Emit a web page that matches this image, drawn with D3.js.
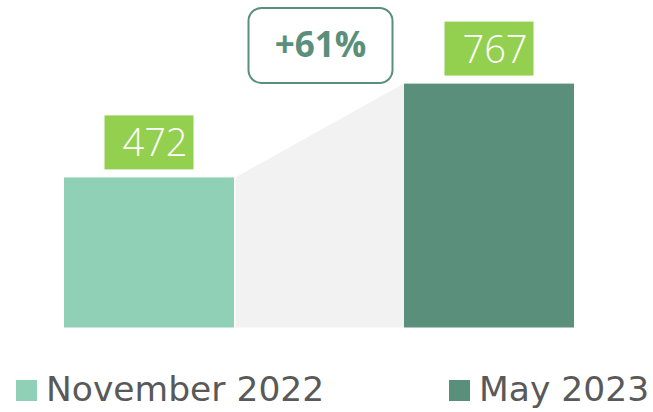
<!doctype html>
<html lang="en">
<head>
    <meta charset="utf-8">
    <title>November 2022 vs May 2023</title>
    <script src="https://cdnjs.cloudflare.com/ajax/libs/d3/7.8.5/d3.min.js"></script>
    <style>
        html, body { margin: 0; padding: 0; background: #ffffff; }
        svg { display: block; }
    </style>
</head>
<body>
    <svg id="chart" width="653" height="412"></svg>
    <script>
        // chart data
        const categories = ["November 2022", "May 2023"];
        const values = [472, 767];
        const colors = ["#8fd0b7", "#5a8f7b"];
        const changeLabel = "+61%";

        const svg = d3.select("#chart");

        const x = d3.scaleBand()
            .domain(categories)
            .range([64, 574])
            .paddingInner(0.5)
            .paddingOuter(0);

        const y = d3.scaleLinear()
            .domain([0, 1000])
            .range([327.5, 9.5]);

        const bw = x.bandwidth();

        // grey connector between the two bars
        const x0 = x(categories[0]) + bw + 1.5;
        const x1 = x(categories[1]);
        svg.append("path")
            .attr("d", `M${x0},${y(values[0])} L${x1},${y(values[1])} L${x1},${y(0)} L${x0},${y(0)} Z`)
            .attr("fill", "#f2f2f2");

        // bars
        svg.selectAll("rect.bar")
            .data(values)
            .enter()
            .append("rect")
            .attr("class", "bar")
            .attr("x", (d, i) => x(categories[i]))
            .attr("y", d => y(d))
            .attr("width", bw)
            .attr("height", d => y(0) - y(d))
            .attr("fill", (d, i) => colors[i]);

        // value labels in green boxes
        const lab = svg.selectAll("g.lab")
            .data(values)
            .enter()
            .append("g")
            .attr("class", "lab")
            .attr("transform", (d, i) => `translate(${x(categories[i]) + bw / 2},${y(d) - 8})`);

        lab.append("rect")
            .attr("x", -44.5)
            .attr("y", -54)
            .attr("width", 89)
            .attr("height", 54)
            .attr("fill", "#94d04f");

        lab.append("text")
            .attr("x", 6)
            .attr("y", -13)
            .attr("text-anchor", "middle")
            .attr("fill", "#ffffff")
            .style("font-family", "'Open Sans', sans-serif")
            .style("font-weight", 300)
            .style("font-size", "38px")
            .text(d => d);

        // change callout
        svg.append("rect")
            .attr("x", 248.5)
            .attr("y", 8)
            .attr("width", 144)
            .attr("height", 75)
            .attr("rx", 13)
            .attr("fill", "#ffffff")
            .attr("stroke", "#5a8f7b")
            .attr("stroke-width", 2);

        svg.append("text")
            .attr("x", 320.5)
            .attr("y", 57)
            .attr("text-anchor", "middle")
            .attr("fill", "#5a8f7b")
            .style("font-family", "'Open Sans', sans-serif")
            .style("font-weight", 700)
            .style("font-size", "35px")
            .text(changeLabel);

        // legend
        const legendX = [16, 449];
        const leg = svg.selectAll("g.leg")
            .data(categories)
            .enter()
            .append("g")
            .attr("class", "leg")
            .attr("transform", (d, i) => `translate(${legendX[i]},380)`);

        leg.append("rect")
            .attr("width", 21)
            .attr("height", 21)
            .attr("fill", (d, i) => colors[i]);

        leg.append("text")
            .attr("x", 30)
            .attr("y", 21)
            .attr("fill", "#595959")
            .style("font-family", "'DejaVu Sans', sans-serif")
            .style("font-size", "34.5px")
            .text(d => d);
    </script>
</body>
</html>
